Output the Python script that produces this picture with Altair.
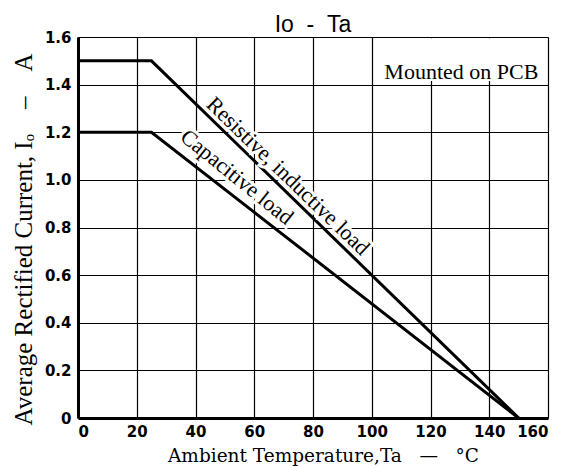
import altair as alt
import pandas as pd

# Derating curves (Ambient temperature in degC, average rectified current in A)
res_temp = [0, 25, 150]
res_curr = [1.5, 1.5, 0.0]
cap_temp = [0, 25, 150]
cap_curr = [1.2, 1.2, 0.0]

x_ticks = [0, 20, 40, 60, 80, 100, 120, 140, 160]
y_ticks = [0.0, 0.2, 0.4, 0.6, 0.8, 1.0, 1.2, 1.4, 1.6]

labels_text = ["Resistive, inductive load", "Capacitive load"]
labels_x = [71.5, 54.1]
labels_y = [1.016, 1.012]
labels_angle = [44, 39]

note_text = ["Mounted on PCB"]
note_x = [130.5]
note_y = [1.425]
box_x = [102]
box_x2 = [159.4]
box_y = [1.415]
box_y2 = [1.595]

df = pd.DataFrame({
    "series": ["res"] * len(res_temp) + ["cap"] * len(cap_temp),
    "t": res_temp + cap_temp,
    "i": res_curr + cap_curr,
})
lab_df = pd.DataFrame({"text": labels_text, "x": labels_x, "y": labels_y, "angle": labels_angle})
note_df = pd.DataFrame({"text": note_text, "x": note_x, "y": note_y})
box_df = pd.DataFrame({"x": box_x, "x2": box_x2, "y": box_y, "y2": box_y2})

xs = alt.Scale(domain=[0, 160], nice=False, zero=False)
ys = alt.Scale(domain=[0, 1.6], nice=False, zero=False)

x_axis = alt.Axis(
    values=x_ticks, grid=True, gridColor="black", gridWidth=1.2, gridOpacity=1,
    ticks=False, domainColor="black", domainWidth=3,
    labelFont="DejaVu Sans", labelFontWeight="bold", labelFontSize=15,
    labelColor="black", labelPadding=6,
    title="Ambient Temperature,Ta\u00a0\u00a0\u00a0\u2014\u00a0\u00a0\u00a0\u00b0C",
    titleFont="DejaVu Serif", titleFontSize=18.5, titleFontWeight="normal",
    titleColor="black", titleX=245, titleY=43, titleBaseline="alphabetic",
    titleAlign="center",
)
y_axis = alt.Axis(
    values=y_ticks, grid=True, gridColor="black", gridWidth=1.2, gridOpacity=1,
    ticks=False, domainColor="black", domainWidth=3,
    labelFont="DejaVu Sans", labelFontWeight="bold", labelFontSize=15,
    labelColor="black", labelPadding=7,
    labelExpr="datum.value == 0 ? '0' : format(datum.value, '.1f')",
    title="Average Rectified Current, I\u2092\u00a0\u00a0\u00a0\u00a0\u2013\u00a0\u00a0\u00a0\u00a0A",
    titleFont="Liberation Serif", titleFontSize=25, titleFontWeight="normal",
    titleColor="black", titleX=-55, titleY=202, titleAngle=-90,
    titleBaseline="middle", titleAlign="center",
)

lines = alt.Chart(df).mark_line(color="black", strokeWidth=3).encode(
    x=alt.X("t:Q", scale=xs, axis=x_axis),
    y=alt.Y("i:Q", scale=ys, axis=y_axis),
    detail="series:N",
)

box = alt.Chart(box_df).mark_rect(color="white").encode(
    x=alt.X("x:Q", scale=xs), x2="x2:Q",
    y=alt.Y("y:Q", scale=ys), y2="y2:Q",
)

note = alt.Chart(note_df).mark_text(
    font="Liberation Serif", fontSize=22, color="black", align="center", baseline="alphabetic"
).encode(x=alt.X("x:Q", scale=xs), y=alt.Y("y:Q", scale=ys), text="text:N")

halo = alt.Chart(lab_df).mark_text(
    font="Liberation Serif", fontSize=22, color="white", stroke="white", strokeWidth=6,
    align="center", baseline="middle"
).encode(x=alt.X("x:Q", scale=xs), y=alt.Y("y:Q", scale=ys), text="text:N",
         angle=alt.Angle("angle:Q", scale=None))

labels = alt.Chart(lab_df).mark_text(
    font="Liberation Serif", fontSize=22, color="black",
    align="center", baseline="middle"
).encode(x=alt.X("x:Q", scale=xs), y=alt.Y("y:Q", scale=ys), text="text:N",
         angle=alt.Angle("angle:Q", scale=None))

chart = alt.layer(box, lines, note, halo, labels).properties(
    width=470, height=381,
    title=alt.TitleParams("Io\u00a0\u00a0-\u00a0\u00a0Ta", font="Liberation Sans", fontSize=23,
                          fontWeight="normal", color="black", offset=-7, anchor="middle"),
    autosize=alt.AutoSizeParams(type="none"),
    padding={"left": 70, "top": 29, "right": 7, "bottom": 50},
).configure_view(stroke="black", strokeWidth=1.5).configure(background="white")

chart.save("out.html", embed_options={"renderer": "svg", "actions": False})
